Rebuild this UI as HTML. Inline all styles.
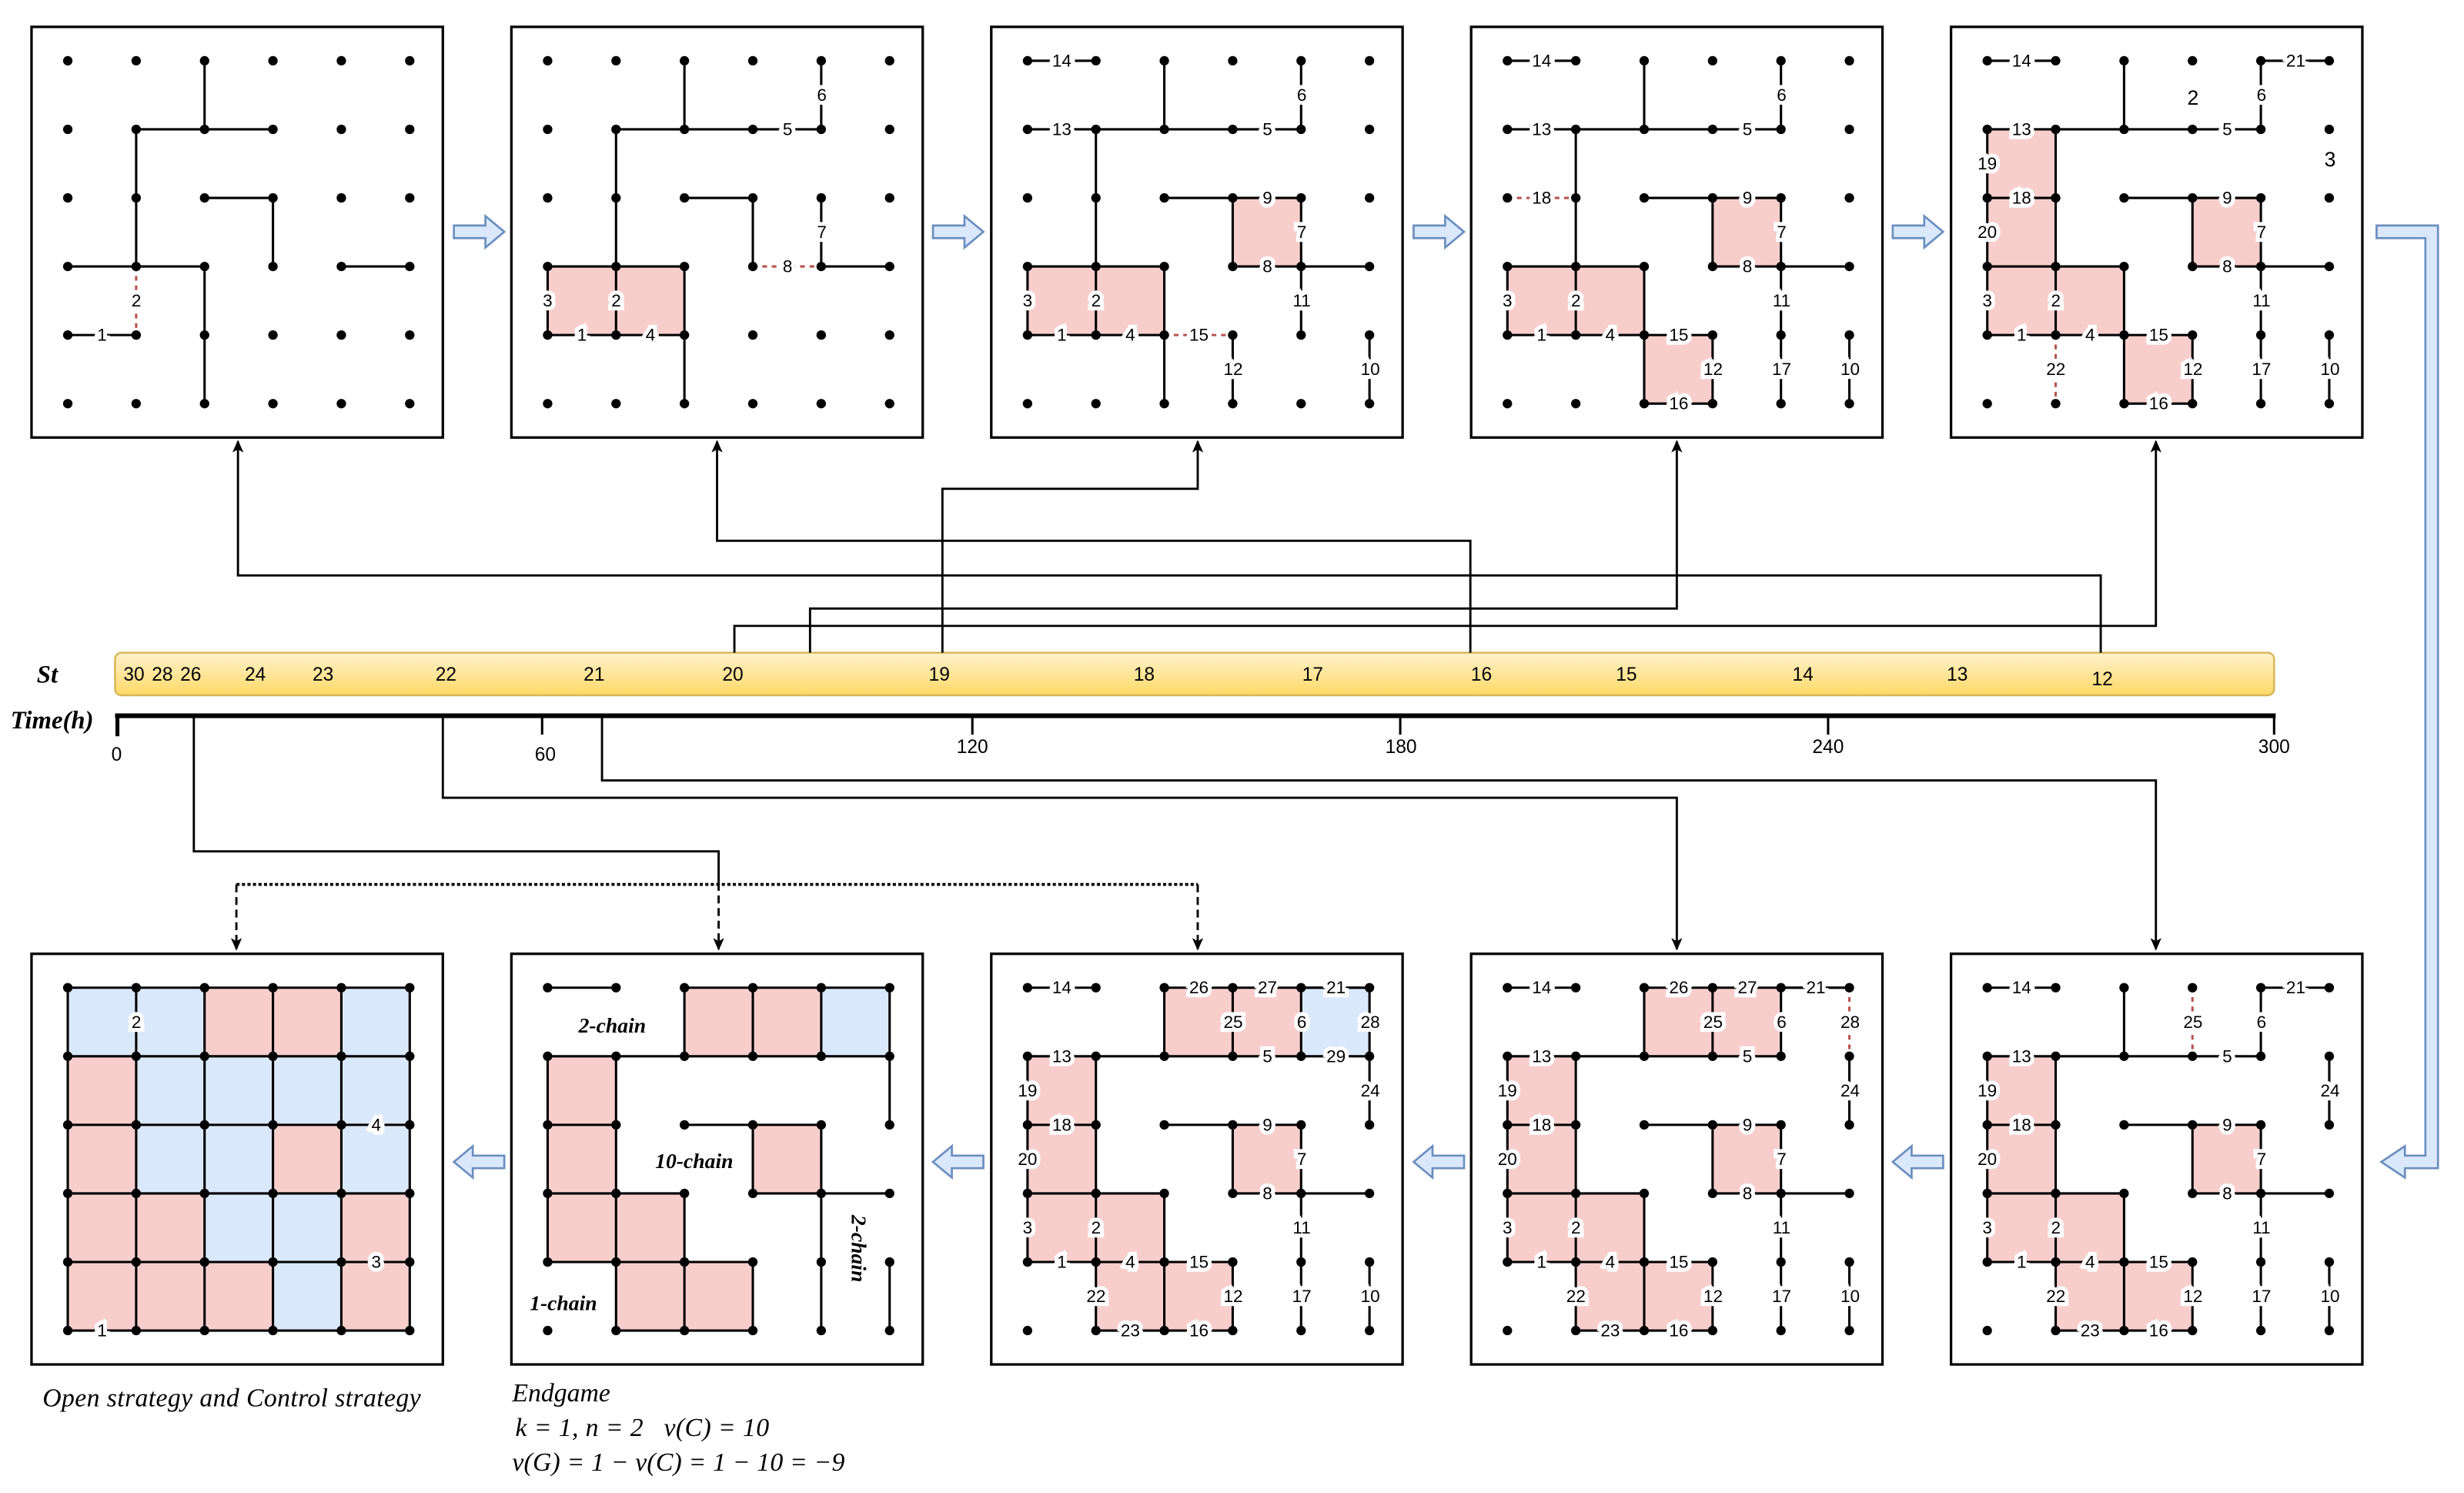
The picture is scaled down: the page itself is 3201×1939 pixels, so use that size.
<!DOCTYPE html>
<html><head><meta charset="utf-8">
<style>
html,body{margin:0;padding:0;background:#fff;}
svg{display:block;}
.l{font-family:"Liberation Sans",sans-serif;font-size:11px;text-anchor:middle;dominant-baseline:central;stroke:#fff;stroke-width:5px;paint-order:stroke;fill:#000;}
.big{font-family:"Liberation Sans",sans-serif;font-size:13px;text-anchor:middle;dominant-baseline:central;fill:#000;}
.t{font-family:"Liberation Sans",sans-serif;font-size:12px;text-anchor:middle;dominant-baseline:central;fill:#000;}
.it{font-family:"Liberation Serif",serif;font-style:italic;fill:#000;}
</style></head>
<body>
<svg width="3201" height="1939" viewBox="0 0 1563.5 947" xmlns="http://www.w3.org/2000/svg">
<defs>
<linearGradient id="yg" x1="0" y1="0" x2="0" y2="1"><stop offset="0" stop-color="#fff2cc"/><stop offset="1" stop-color="#ffd966"/></linearGradient>
<marker id="ah" markerWidth="8" markerHeight="10" refX="7" refY="5" orient="auto" markerUnits="userSpaceOnUse"><path d="M0,1.5 L8,5 L0,8.5 L2,5 Z" fill="#000"/></marker>
</defs>
<rect width="1563.5" height="947" fill="#fff"/>

<!-- timeline -->
<rect x="73" y="414" width="1370" height="27" rx="4" fill="url(#yg)" stroke="#d6b656" stroke-width="1.2"/>
<text class="it" x="30" y="433" font-size="16" font-weight="bold" text-anchor="middle">St</text>
<text class="t" x="85" y="428">30</text><text class="t" x="103" y="428">28</text><text class="t" x="121" y="428">26</text>
<text class="t" x="162" y="428">24</text><text class="t" x="205" y="428">23</text><text class="t" x="283" y="428">22</text>
<text class="t" x="377" y="428">21</text><text class="t" x="465" y="428">20</text><text class="t" x="596" y="428">19</text>
<text class="t" x="726" y="428">18</text><text class="t" x="833" y="428">17</text><text class="t" x="940" y="428">16</text>
<text class="t" x="1032" y="428">15</text><text class="t" x="1144" y="428">14</text><text class="t" x="1242" y="428">13</text>
<text class="t" x="1334" y="431">12</text>
<text class="it" x="33" y="462" font-size="16" font-weight="bold" text-anchor="middle">Time(h)</text>
<line x1="73" y1="454" x2="1444" y2="454" stroke="#000" stroke-width="3"/>
<g stroke="#000" stroke-width="1.5">
<line x1="74.5" y1="454" x2="74.5" y2="467" stroke-width="2.5"/><line x1="344" y1="454" x2="344" y2="466"/><line x1="617" y1="454" x2="617" y2="466"/><line x1="888.5" y1="454" x2="888.5" y2="466"/><line x1="1160" y1="454" x2="1160" y2="466"/><line x1="1443" y1="454" x2="1443" y2="466"/>
</g>
<text class="t" x="74" y="479">0</text><text class="t" x="346" y="479">60</text><text class="t" x="617" y="474">120</text><text class="t" x="889" y="474">180</text><text class="t" x="1160" y="474">240</text><text class="t" x="1443" y="474">300</text>

<!-- connectors -->
<g fill="none" stroke="#000" stroke-width="1.4">
<path d="M1333,414 V365 H151 V280" marker-end="url(#ah)"/>
<path d="M933,414 V343 H455 V280" marker-end="url(#ah)"/>
<path d="M598,414 V310 H760 V280" marker-end="url(#ah)"/>
<path d="M514,414 V386 H1064 V280" marker-end="url(#ah)"/>
<path d="M466,414 V397 H1368 V280" marker-end="url(#ah)"/>
<path d="M123,455 V540 H456 V560"/>
<path d="M281,455 V506 H1064 V602" marker-end="url(#ah)"/>
<path d="M382,455 V495 H1368 V602" marker-end="url(#ah)"/>
<path d="M456,560 V602" stroke-dasharray="5,3" marker-end="url(#ah)"/>
<path d="M150,561 H760" stroke-dasharray="2,1.5" stroke-width="1.8"/>
<path d="M150,561 V602" stroke-dasharray="5,3" marker-end="url(#ah)"/>
<path d="M760,561 V602" stroke-dasharray="5,3" marker-end="url(#ah)"/>
</g>

<!-- blue arrows -->
<g fill="#dae8fc" stroke="#6c8ebf" stroke-width="1.3">
<path d="M288,143 H308 V137 L320,147 L308,157 V151 H288 Z"/>
<path d="M592,143 H612 V137 L624,147 L612,157 V151 H592 Z"/>
<path d="M897,143 H917 V137 L929,147 L917,157 V151 H897 Z"/>
<path d="M1201,143 H1221 V137 L1233,147 L1221,157 V151 H1201 Z"/>
<path d="M320,733 H300 V727 L288,737 L300,747 V741 H320 Z"/>
<path d="M624,733 H604 V727 L592,737 L604,747 V741 H624 Z"/>
<path d="M929,733 H909 V727 L897,737 L909,747 V741 H929 Z"/>
<path d="M1233,733 H1213 V727 L1201,737 L1213,747 V741 H1233 Z"/>
<path d="M1508,143 H1547 V741 H1526 V747 L1511,737 L1526,727 V733 H1539 V151 H1508 Z"/>
</g>

<!-- panels -->
<g transform="translate(20,17)"><g id="T1"></g>
<text class="l" x="44.75" y="195.5">1</text><text class="l" x="66.5" y="173.75">2</text>
</g>
<g transform="translate(324.5,17)"><g id="T2"></g>
<text class="l" x="175.25" y="65">5</text><text class="l" x="197" y="43.25">6</text><text class="l" x="197" y="130.25">7</text><text class="l" x="175.25" y="152">8</text>
<text class="l" x="23" y="173.75">3</text><text class="l" x="66.5" y="173.75">2</text><text class="l" x="44.75" y="195.5">1</text><text class="l" x="88.25" y="195.5">4</text>
</g>
<g transform="translate(629,17)"><g id="T3"></g>
<text class="l" x="44.75" y="21.5">14</text><text class="l" x="197" y="43.25">6</text><text class="l" x="44.75" y="65">13</text><text class="l" x="175.25" y="65">5</text>
<text class="l" x="175.25" y="108.5">9</text><text class="l" x="197" y="130.25">7</text><text class="l" x="175.25" y="152">8</text>
<text class="l" x="23" y="173.75">3</text><text class="l" x="66.5" y="173.75">2</text><text class="l" x="44.75" y="195.5">1</text><text class="l" x="88.25" y="195.5">4</text>
<text class="l" x="197" y="173.75">11</text><text class="l" x="153.5" y="217.25">12</text><text class="l" x="240.5" y="217.25">10</text>
<text class="l" x="131.75" y="195.5">15</text>
</g>
<g transform="translate(933.5,17)"><g id="T4"></g>
<text class="l" x="44.75" y="21.5">14</text><text class="l" x="197" y="43.25">6</text><text class="l" x="44.75" y="65">13</text><text class="l" x="175.25" y="65">5</text>
<text class="l" x="175.25" y="108.5">9</text><text class="l" x="197" y="130.25">7</text><text class="l" x="175.25" y="152">8</text>
<text class="l" x="23" y="173.75">3</text><text class="l" x="66.5" y="173.75">2</text><text class="l" x="44.75" y="195.5">1</text><text class="l" x="88.25" y="195.5">4</text>
<text class="l" x="197" y="173.75">11</text><text class="l" x="153.5" y="217.25">12</text><text class="l" x="240.5" y="217.25">10</text>
<text class="l" x="131.75" y="195.5">15</text><text class="l" x="131.75" y="239">16</text><text class="l" x="197" y="217.25">17</text><text class="l" x="44.75" y="108.5">18</text>
</g>
<g transform="translate(1238,17)"><g id="T5"></g>
<text class="l" x="44.75" y="21.5">14</text><text class="l" x="197" y="43.25">6</text><text class="l" x="44.75" y="65">13</text><text class="l" x="175.25" y="65">5</text>
<text class="l" x="175.25" y="108.5">9</text><text class="l" x="197" y="130.25">7</text><text class="l" x="175.25" y="152">8</text>
<text class="l" x="23" y="173.75">3</text><text class="l" x="66.5" y="173.75">2</text><text class="l" x="44.75" y="195.5">1</text><text class="l" x="88.25" y="195.5">4</text>
<text class="l" x="197" y="173.75">11</text><text class="l" x="153.5" y="217.25">12</text><text class="l" x="240.5" y="217.25">10</text>
<text class="l" x="131.75" y="195.5">15</text><text class="l" x="131.75" y="239">16</text><text class="l" x="197" y="217.25">17</text><text class="l" x="44.75" y="108.5">18</text>
<text class="l" x="23" y="86.75">19</text><text class="l" x="23" y="130.25">20</text><text class="l" x="218.75" y="21.5">21</text><text class="l" x="66.5" y="217.25">22</text>
<text class="big" x="153.5" y="45">2</text><text class="big" x="240.5" y="84">3</text>
</g>

<g transform="translate(1238,605)"><g id="B5"></g>
<text class="l" x="44.75" y="21.5">14</text><text class="l" x="197" y="43.25">6</text><text class="l" x="44.75" y="65">13</text><text class="l" x="175.25" y="65">5</text>
<text class="l" x="175.25" y="108.5">9</text><text class="l" x="197" y="130.25">7</text><text class="l" x="175.25" y="152">8</text>
<text class="l" x="23" y="173.75">3</text><text class="l" x="66.5" y="173.75">2</text><text class="l" x="44.75" y="195.5">1</text><text class="l" x="88.25" y="195.5">4</text>
<text class="l" x="197" y="173.75">11</text><text class="l" x="153.5" y="217.25">12</text><text class="l" x="240.5" y="217.25">10</text>
<text class="l" x="131.75" y="195.5">15</text><text class="l" x="131.75" y="239">16</text><text class="l" x="197" y="217.25">17</text><text class="l" x="44.75" y="108.5">18</text>
<text class="l" x="23" y="86.75">19</text><text class="l" x="23" y="130.25">20</text><text class="l" x="218.75" y="21.5">21</text><text class="l" x="66.5" y="217.25">22</text>
<text class="l" x="88.25" y="239">23</text><text class="l" x="240.5" y="86.75">24</text><text class="l" x="153.5" y="43.25">25</text>
</g>
<g transform="translate(933.5,605)"><g id="B4"></g>
<text class="l" x="44.75" y="21.5">14</text><text class="l" x="197" y="43.25">6</text><text class="l" x="44.75" y="65">13</text><text class="l" x="175.25" y="65">5</text>
<text class="l" x="175.25" y="108.5">9</text><text class="l" x="197" y="130.25">7</text><text class="l" x="175.25" y="152">8</text>
<text class="l" x="23" y="173.75">3</text><text class="l" x="66.5" y="173.75">2</text><text class="l" x="44.75" y="195.5">1</text><text class="l" x="88.25" y="195.5">4</text>
<text class="l" x="197" y="173.75">11</text><text class="l" x="153.5" y="217.25">12</text><text class="l" x="240.5" y="217.25">10</text>
<text class="l" x="131.75" y="195.5">15</text><text class="l" x="131.75" y="239">16</text><text class="l" x="197" y="217.25">17</text><text class="l" x="44.75" y="108.5">18</text>
<text class="l" x="23" y="86.75">19</text><text class="l" x="23" y="130.25">20</text><text class="l" x="218.75" y="21.5">21</text><text class="l" x="66.5" y="217.25">22</text>
<text class="l" x="88.25" y="239">23</text><text class="l" x="240.5" y="86.75">24</text><text class="l" x="153.5" y="43.25">25</text>
<text class="l" x="131.75" y="21.5">26</text><text class="l" x="175.25" y="21.5">27</text><text class="l" x="240.5" y="43.25">28</text>
</g>
<g transform="translate(629,605)"><g id="B3"></g>
<text class="l" x="44.75" y="21.5">14</text><text class="l" x="197" y="43.25">6</text><text class="l" x="44.75" y="65">13</text><text class="l" x="175.25" y="65">5</text>
<text class="l" x="175.25" y="108.5">9</text><text class="l" x="197" y="130.25">7</text><text class="l" x="175.25" y="152">8</text>
<text class="l" x="23" y="173.75">3</text><text class="l" x="66.5" y="173.75">2</text><text class="l" x="44.75" y="195.5">1</text><text class="l" x="88.25" y="195.5">4</text>
<text class="l" x="197" y="173.75">11</text><text class="l" x="153.5" y="217.25">12</text><text class="l" x="240.5" y="217.25">10</text>
<text class="l" x="131.75" y="195.5">15</text><text class="l" x="131.75" y="239">16</text><text class="l" x="197" y="217.25">17</text><text class="l" x="44.75" y="108.5">18</text>
<text class="l" x="23" y="86.75">19</text><text class="l" x="23" y="130.25">20</text><text class="l" x="218.75" y="21.5">21</text><text class="l" x="66.5" y="217.25">22</text>
<text class="l" x="88.25" y="239">23</text><text class="l" x="240.5" y="86.75">24</text><text class="l" x="153.5" y="43.25">25</text>
<text class="l" x="131.75" y="21.5">26</text><text class="l" x="175.25" y="21.5">27</text><text class="l" x="240.5" y="43.25">28</text><text class="l" x="218.75" y="65">29</text>
</g>
<g transform="translate(324.5,605)"><g id="B2"></g>
<text class="it" x="64" y="50" font-size="13.5" font-weight="bold" text-anchor="middle">2-chain</text>
<text class="it" x="116" y="136" font-size="13.5" font-weight="bold" text-anchor="middle">10-chain</text>
<text class="it" x="33" y="226" font-size="13.5" font-weight="bold" text-anchor="middle">1-chain</text>
<text class="it" x="0" y="0" font-size="13.5" font-weight="bold" text-anchor="middle" transform="translate(216,187) rotate(90)">2-chain</text>
</g>
<g transform="translate(20,605)"><g id="B1"></g>
<text class="l" x="66.5" y="43.25">2</text><text class="l" x="218.75" y="108.5">4</text><text class="l" x="218.75" y="195.5">3</text><text class="l" x="44.75" y="239">1</text>
</g>

<!-- captions -->
<text class="it" x="27" y="892" font-size="16.5" textLength="240">Open strategy and Control strategy</text>
<text class="it" x="325" y="889" font-size="16.5">Endgame</text>
<text class="it" x="327" y="911" font-size="16.5" textLength="161">k = 1, n = 2 &#160;&#160;v(C) = 10</text>
<text class="it" x="325" y="933" font-size="16.5" textLength="211">v(G) = 1 − v(C) = 1 − 10 = −9</text>
</svg>
<script>
(function(){
var NS="http://www.w3.org/2000/svg";
function X(c){return 23+43.4*c;} function Y(r){return 21.5+43.5*r;}
function el(g,n,a){var e=document.createElementNS(NS,n);for(var k in a)e.setAttribute(k,a[k]);g.appendChild(e);return e;}
var P="#f8cecc",B="#dae8fc";
var base={s:[[0,0,1,0],[2,0,2,1],[4,0,4,1],[0,1,4,1],[1,1,1,3],[2,2,4,2],[3,2,3,3],[4,2,4,3],[3,3,5,3],[0,3,2,3],[0,3,0,4],[1,3,1,4],[2,3,2,5],[0,4,2,4],[3,4,3,5],[4,3,4,4],[5,4,5,5]],c:[[0,3,P],[1,3,P],[3,2,P]]};
function ext(o,s,d,c){return {s:o.s.concat(s||[]),d:d||[],c:o.c.concat(c||[])};}
var T4=ext(base,[[2,4,3,4],[2,5,3,5],[4,4,4,5]],[[0,2,1,2]],[[2,4,P]]);
var T5=ext({s:T4.s,c:T4.c},[[0,2,1,2],[0,1,0,3],[4,0,5,0]],[[1,4,1,5]],[[0,1,P],[0,2,P]]);
var B5=ext({s:T5.s,c:T5.c},[[1,4,1,5],[1,5,2,5],[5,1,5,2]],[[3,0,3,1]],[[1,4,P]]);
var B4=ext({s:B5.s,c:B5.c},[[2,0,5,0],[3,0,3,1]],[[5,0,5,1]],[[2,0,P],[3,0,P]]);
var B3=ext({s:B4.s,c:B4.c},[[5,0,5,1],[4,1,5,1]],[],[[4,0,B]]);
var b1s=[],b1c=[];for(var i=0;i<6;i++){b1s.push([0,i,5,i]);b1s.push([i,0,i,5]);}
var cols=["BBRRB","RBBBB","RBBRB","RRBBR","RRRBR"];
for(var r=0;r<5;r++)for(var c=0;c<5;c++)b1c.push([c,r,cols[r][c]=="R"?P:B]);
var D={
T1:{s:[[2,0,2,1],[1,1,3,1],[1,1,1,3],[2,2,3,2],[3,2,3,3],[0,3,2,3],[2,3,2,5],[4,3,5,3],[0,4,1,4]],d:[[1,3,1,4]],c:[]},
T2:{s:[[2,0,2,1],[1,1,4,1],[4,0,4,1],[1,1,1,3],[2,2,3,2],[3,2,3,3],[4,2,4,3],[4,3,5,3],[0,3,2,3],[0,3,0,4],[1,3,1,4],[2,3,2,5],[0,4,2,4]],d:[[3,3,4,3]],c:[[0,3,P],[1,3,P]]},
T3:ext(base,[],[[2,4,3,4]]),T4:T4,T5:T5,B5:B5,B4:B4,B3:B3,
B2:{s:[[0,0,1,0],[2,0,5,0],[0,1,5,1],[2,0,2,1],[3,0,3,1],[4,0,4,1],[5,0,5,2],[0,1,0,4],[1,1,1,5],[2,3,2,5],[3,4,3,5],[0,2,1,2],[0,3,2,3],[0,4,3,4],[1,5,3,5],[2,2,4,2],[3,2,3,3],[4,2,4,5],[3,3,5,3],[5,4,5,5]],d:[],c:[[2,0,P],[3,0,P],[4,0,B],[0,1,P],[0,2,P],[0,3,P],[1,3,P],[1,4,P],[2,4,P],[3,2,P]]},
B1:{s:b1s,d:[],c:b1c}
};
for(var id in D){
 var g=document.getElementById(id),d=D[id];
 el(g,"rect",{x:0,y:0,width:261,height:260.5,fill:"#fff",stroke:"#000","stroke-width":1.6});
 d.c.forEach(function(q){el(g,"rect",{x:X(q[0]),y:Y(q[1]),width:43.4,height:43.5,fill:q[2]});});
 d.s.forEach(function(q){el(g,"line",{x1:X(q[0]),y1:Y(q[1]),x2:X(q[2]),y2:Y(q[3]),stroke:"#000","stroke-width":1.5});});
 d.d.forEach(function(q){el(g,"line",{x1:X(q[0]),y1:Y(q[1]),x2:X(q[2]),y2:Y(q[3]),stroke:"#b85450","stroke-width":1.5,"stroke-dasharray":"3,3"});});
 for(var r=0;r<6;r++)for(var c=0;c<6;c++)el(g,"circle",{cx:X(c),cy:Y(r),r:3,fill:"#000"});
}
})();
</script>
</body></html>
